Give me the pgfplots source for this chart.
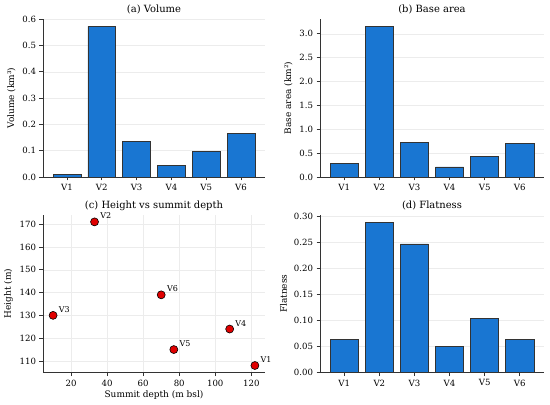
\documentclass[border=0pt]{standalone}
\usepackage{pgfplots}
\pgfplotsset{compat=1.18}
\usepackage{fontspec}
\setmainfont{DejaVu Serif}
\definecolor{barblue}{HTML}{1976D2}
\definecolor{dotred}{HTML}{E00000}
\definecolor{spine}{HTML}{333333}
\pgfplotsset{
  every axis title/.style={at={(0.5,1)}, anchor=base, yshift=6bp, font=\fontsize{10}{12}\selectfont, color=black},
  base/.style={
    scale only axis,
    axis lines=left,
    axis line style={-, spine, line width=0.75pt},
    tick align=outside,
    major tick length=3.5bp,
    every tick/.style={spine, line width=0.75pt},
    tick label style={font=\fontsize{8.6}{10}\selectfont, color=black},
    label style={font=\fontsize{9}{11}\selectfont, color=black},
    /pgf/number format/assume math mode=true,
    grid style={gray!15, line width=0.5pt},
    clip=false,
  },
  bars/.style={
    base,
    ybar, bar width=0.8,
    xmin=-0.69, xmax=5.69, ymin=0,
    xtick=data, xticklabels={V1,V2,V3,V4,V5,V6},
    ymajorgrids,
  },
}
\begin{document}
\begin{tikzpicture}
\useasboundingbox (0,0) rectangle (550bp,405bp);
% (a)
\begin{axis}[bars, at={(43bp,228bp)}, anchor=south west, width=222bp, height=158bp,
  ymax=0.6006, ytick={0,0.1,0.2,0.3,0.4,0.5,0.6},
  yticklabel style={/pgf/number format/.cd, fixed, fixed zerofill, precision=1},
  title={(a) Volume}, ylabel={Volume (km³)}]
\addplot[fill=barblue, draw=black!80, line width=0.6pt] coordinates {(0,0.011) (1,0.573) (2,0.135) (3,0.044) (4,0.098) (5,0.166)};
\end{axis}
% (b)
\begin{axis}[bars, at={(320bp,228bp)}, anchor=south west, width=224bp, height=158bp,
  ymax=3.31, ytick={0,0.5,1,1.5,2,2.5,3},
  yticklabel style={/pgf/number format/.cd, fixed, fixed zerofill, precision=1},
  title={(b) Base area}, ylabel={Base area (km²)}]
\addplot[fill=barblue, draw=black!80, line width=0.6pt] coordinates {(0,0.286) (1,3.15) (2,0.733) (3,0.21) (4,0.43) (5,0.71)};
\end{axis}
% (c)
\begin{axis}[base, at={(43bp,32.3bp)}, anchor=south west, width=222bp, height=158bp,
  xmin=4.4, xmax=127.6, ymin=104.85, ymax=174.15,
  xtick={20,40,60,80,100,120}, ytick={110,120,130,140,150,160,170},
  xmajorgrids, ymajorgrids,
  title={(c) Height vs summit depth}, ylabel={Height (m)}, xlabel={Summit depth (m bsl)},
  xlabel style={yshift=2bp},
  nodes near coords={\pgfplotspointmeta},
  point meta=explicit symbolic,
  every node near coord/.style={anchor=base west, inner sep=0pt, xshift=5.5bp, yshift=3bp, font=\fontsize{8}{9}\selectfont, color=black}]
\addplot[only marks, mark=*, mark size=4bp, mark options={fill=dotred, draw=black, line width=0.6pt}] table[meta=label] {
x y label
122 108 V1
33 171 V2
10 130 V3
108 124 V4
77 115 V5
70 139 V6
};
\end{axis}
% (d)
\begin{axis}[bars, at={(320bp,32.3bp)}, anchor=south west, width=224bp, height=158bp,
  ymax=0.3024, ytick={0,0.05,0.1,0.15,0.2,0.25,0.3},
  yticklabel style={/pgf/number format/.cd, fixed, fixed zerofill, precision=2},
  title={(d) Flatness}, ylabel={Flatness}]
\addplot[fill=barblue, draw=black!80, line width=0.6pt] coordinates {(0,0.064) (1,0.288) (2,0.2465) (3,0.051) (4,0.104) (5,0.064)};
\end{axis}
\end{tikzpicture}
\end{document}
